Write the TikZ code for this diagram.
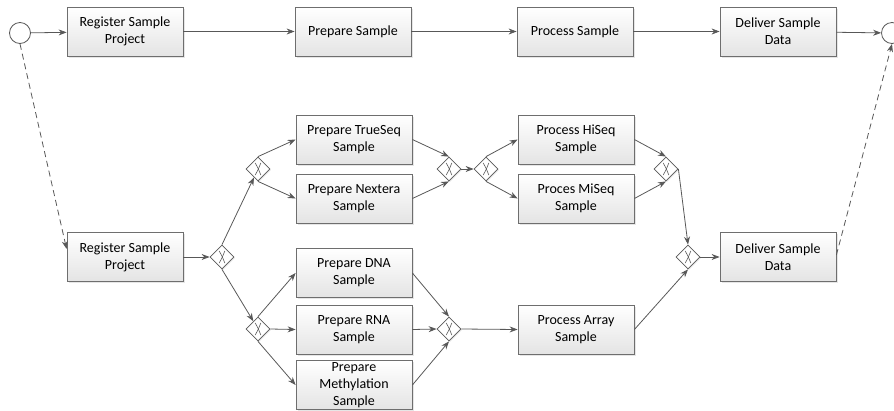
\documentclass[tikz,border=0pt]{standalone}
\usepackage{fontspec}
\setmainfont{Carlito}
\usetikzlibrary{arrows.meta,shapes.geometric,shadows}
\definecolor{linegray}{HTML}{585858}
\definecolor{boxgray}{HTML}{6E6E6E}
\definecolor{boxbot}{HTML}{E4E4E4}
\begin{document}
\begin{tikzpicture}[x=1pt,y=-1pt,
  task/.style={draw=boxgray, line width=0.8pt, top color=white, bottom color=boxbot,
    minimum width=116pt, minimum height=49pt, inner sep=1pt, align=center,
    font=\fontsize{14}{17}\selectfont,
    drop shadow={shadow xshift=1.5pt, shadow yshift=-1.5pt, opacity=0.2}},
  gw/.style={diamond, draw=linegray, line width=0.8pt, fill=white, minimum size=24pt, inner sep=0pt,
    drop shadow={shadow xshift=1pt, shadow yshift=-1pt, opacity=0.2},
    path picture={
      \draw[linegray, line width=0.6pt]
        ([shift={(-2.8pt,-6pt)}]path picture bounding box.center) .. controls ([shift={(0pt,-1pt)}]path picture bounding box.center) .. ([shift={(2.8pt,6pt)}]path picture bounding box.center);
      \draw[linegray, line width=0.6pt]
        ([shift={(2.8pt,-6pt)}]path picture bounding box.center) .. controls ([shift={(0pt,1pt)}]path picture bounding box.center) .. ([shift={(-2.8pt,6pt)}]path picture bounding box.center);
    }},
  ev/.style={circle, draw=linegray, line width=0.8pt, fill=white, minimum size=21pt, inner sep=0pt},
  flow/.style={draw=linegray, line width=0.8pt, -{Stealth[length=8pt,width=6pt]}},
  assoc/.style={flow, dash pattern=on 6pt off 4pt}]
\useasboundingbox (0,0) rectangle (894,410);

% top row
\node[ev] (s) at (20,33) {};
\node[task] (r1) at (125,31.5) {Register Sample\\Project};
\node[task] (p1) at (353,31.5) {Prepare Sample};
\node[task] (q1) at (575,31.5) {Process Sample};
\node[task] (d1) at (778,31.5) {Deliver Sample\\Data};
\node[ev] (e) at (892,33) {};

% sequencing branch
\node[task] (ts) at (354,139.5) {Prepare TrueSeq\\Sample};
\node[task] (nx) at (354,198.5) {Prepare Nextera\\Sample};
\node[gw] (g1) at (258,169) {};
\node[gw] (g2) at (449,169) {};
\node[gw] (g3) at (486,169) {};
\node[task] (hs) at (576,139.5) {Process HiSeq\\Sample};
\node[task] (ms) at (576,198.5) {Proces MiSeq\\Sample};
\node[gw] (g4) at (666,169) {};
\node[gw] (g5) at (688,257) {};
\node[task] (d2) at (778,257) {Deliver Sample\\Data};

% lower
\node[task] (r2) at (125,257) {Register Sample\\Project};
\node[gw] (g6) at (222,257) {};
\node[gw] (g7) at (258,329) {};
\node[task] (dna) at (354,273) {Prepare DNA\\Sample};
\node[task] (rna) at (354,329.5) {Prepare RNA\\Sample};
\node[task] (met) at (354,385) {Prepare\\Methylation\\Sample};
\node[gw] (g8) at (449,329) {};
\node[task] (pa) at (576,329.5) {Process Array\\Sample};

% top flows
\draw[flow] (s) -- (r1);
\draw[flow] (r1) -- (p1);
\draw[flow] (p1) -- (q1);
\draw[flow] (q1) -- (d1);
\draw[flow] (d1) -- (e);

% associations
\draw[assoc] (s.south) -- ([yshift=8pt]r2.west);
\draw[assoc] ([yshift=2pt]d2.east) -- (e.south);

% lower flows
\draw[flow] (r2) -- (g6);
\draw[flow] (g6.north) -- (g1);
\draw[flow] (g6.south) -- (g7);
\draw[flow] (g1.north) -- (ts.west);
\draw[flow] (g1.south) -- (nx.west);
\draw[flow] (ts.east) -- (g2.north);
\draw[flow] (nx.east) -- (g2.south);
\draw[flow] (g2.east) -- (g3.west);
\draw[flow] (g3.north) -- (hs.west);
\draw[flow] (g3.south) -- (ms.west);
\draw[flow] (hs.east) -- (g4.north);
\draw[flow] (ms.east) -- (g4.south);
\draw[flow] (g4.east) -- (g5.north);
\draw[flow] (g5.east) -- (d2.west);
\draw[flow] (g7.north) -- (dna.west);
\draw[flow] (g7.east) -- (rna.west);
\draw[flow] (g7.south) -- (met.west);
\draw[flow] (dna.east) -- (g8.north);
\draw[flow] (rna.east) -- (g8.west);
\draw[flow] (met.east) -- (g8.south);
\draw[flow] (g8.east) -- (pa.west);
\draw[flow] (pa.east) -- (g5.south);
\end{tikzpicture}
\end{document}
